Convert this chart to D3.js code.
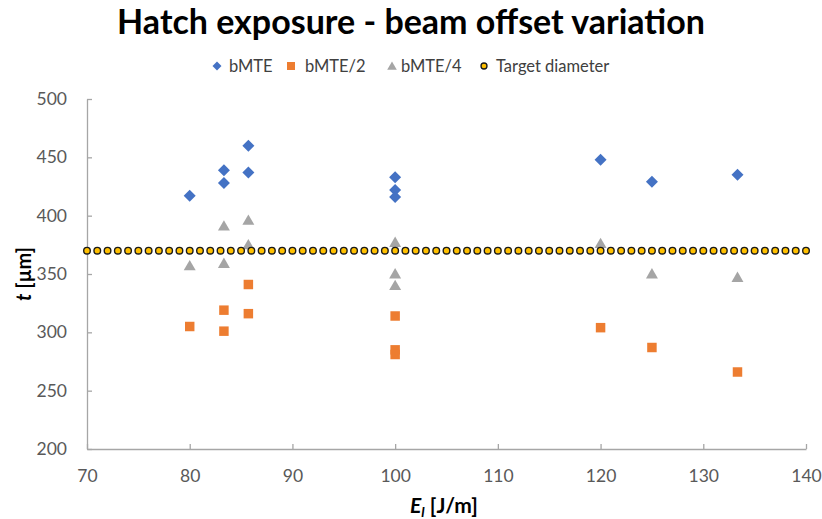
<!DOCTYPE html>
<html>
<head>
<meta charset="utf-8">
<script src="https://cdn.jsdelivr.net/npm/d3@7"></script>
<style>
  html, body { margin: 0; padding: 0; background: #fff; }
  svg { display: block; font-family: Lato, "Open Sans", sans-serif; }
</style>
</head>
<body>
<svg id="chart" width="822" height="519"></svg>
<script>
// Line energy E_l [J/m] for each measurement
const bMTE_x   = [80, 83.33, 83.33, 85.71, 85.71, 100, 100, 100, 120, 125, 133.33];
const bMTE_y   = [417, 439, 428, 460, 437, 433, 422, 416, 448, 429, 435];
const bMTE2_x  = [80, 83.33, 83.33, 85.71, 85.71, 100, 100, 100, 120, 125, 133.33];
const bMTE2_y  = [305, 319, 301, 341, 316, 314, 285, 281, 304, 287, 266];
const bMTE4_x  = [80, 83.33, 83.33, 85.71, 85.71, 100, 100, 100, 120, 125, 133.33];
const bMTE4_y  = [357, 391, 359, 396, 375, 377, 350, 340, 376, 350, 347];
const targetValue = 370;
const targetX = d3.range(70, 141, 1);

const xTicks = [70, 80, 90, 100, 110, 120, 130, 140];
const yTicks = [200, 250, 300, 350, 400, 450, 500];

const seriesNames = ["bMTE", "bMTE/2", "bMTE/4", "Target diameter"];

const svg = d3.select("#chart");
const margin = { left: 87, right: 16, top: 99, bottom: 70 };
const W = 822, H = 519;

const x = d3.scaleLinear().domain([70, 140]).range([margin.left, W - margin.right]);
const y = d3.scaleLinear().domain([200, 500]).range([H - margin.bottom, margin.top]);

const axisColor = "#a6a6a6";
const labelColor = "#595959";

// Title
svg.append("text")
  .attr("x", 411).attr("y", 34)
  .attr("text-anchor", "middle")
  .attr("font-size", 34).attr("font-weight", "bold")
  .attr("fill", "#000")
  .text("Hatch exposure - beam offset variation");

// Axes
const xAxis = d3.axisBottom(x).tickValues(xTicks).tickSizeInner(-5).tickSizeOuter(0).tickPadding(21);
const yAxis = d3.axisLeft(y).tickValues(yTicks).tickSizeInner(-5).tickSizeOuter(0).tickPadding(20);

const gx = svg.append("g").attr("transform", `translate(0,${y(200)})`).call(xAxis);
const gy = svg.append("g").attr("transform", `translate(${x(70)},0)`).call(yAxis);
[gx, gy].forEach(g => {
  g.select(".domain").attr("stroke", axisColor).attr("stroke-width", 1.3);
  g.selectAll(".tick line").attr("stroke", axisColor).attr("stroke-width", 1.3);
  g.selectAll(".tick text").attr("fill", labelColor).attr("font-size", 17.5)
    .attr("font-family", "Lato, 'Open Sans', sans-serif");
});

// Axis titles
const xt = svg.append("text")
  .attr("x", 444).attr("y", 513)
  .attr("text-anchor", "middle")
  .attr("font-size", 21).attr("font-weight", "bold").attr("fill", "#000");
xt.append("tspan").attr("font-style", "italic").text("E");
xt.append("tspan").attr("font-style", "italic").attr("font-size", 14).attr("dy", 4).text("l");
xt.append("tspan").attr("dy", -4).text(" [J/m]");

const yt = svg.append("text")
  .attr("transform", `translate(31,${y(350)}) rotate(-90)`)
  .attr("text-anchor", "middle")
  .attr("font-size", 20).attr("font-weight", "bold").attr("fill", "#000");
yt.append("tspan").attr("font-style", "italic").text("t");
yt.append("tspan").text(" [µm]");

// Marker shapes
const diamondPath = d3.symbol(d3.symbolSquare, 72)();
const squarePath = d3.symbol(d3.symbolSquare, 90)();
const trianglePath = d3.symbol(d3.symbolTriangle, 62)();

const plot = svg.append("g");

function pts(xs, ys) { return xs.map((v, i) => ({ x: v, y: ys[i] })); }

plot.append("g").selectAll("path").data(pts(bMTE_x, bMTE_y)).join("path")
  .attr("d", diamondPath)
  .attr("transform", d => `translate(${x(d.x)},${y(d.y)}) rotate(45)`)
  .attr("fill", "#4472c4");

plot.append("g").selectAll("path").data(pts(bMTE2_x, bMTE2_y)).join("path")
  .attr("d", squarePath)
  .attr("transform", d => `translate(${x(d.x)},${y(d.y)})`)
  .attr("fill", "#ed7d31");

plot.append("g").selectAll("path").data(pts(bMTE4_x, bMTE4_y)).join("path")
  .attr("d", trianglePath)
  .attr("transform", d => `translate(${x(d.x)},${y(d.y) + 1})`)
  .attr("fill", "#a5a5a5");

plot.append("g").selectAll("circle").data(targetX).join("circle")
  .attr("cx", d => x(d)).attr("cy", y(targetValue))
  .attr("r", 3.3)
  .attr("fill", "#ffc000").attr("stroke", "#1a1a1a").attr("stroke-width", 1.4);

// Legend
const legend = svg.append("g").attr("font-size", 16.5).attr("fill", "#404040");
const legendItems = [
  { name: seriesNames[0], mx: 217, tx: 229 },
  { name: seriesNames[1], mx: 291, tx: 305 },
  { name: seriesNames[2], mx: 392, tx: 401 },
  { name: seriesNames[3], mx: 484, tx: 496 }
];
const ly = 66;
legendItems.forEach((it, i) => {
  if (i === 0) legend.append("path").attr("d", d3.symbol(d3.symbolSquare, 40)())
    .attr("transform", `translate(${it.mx},${ly}) rotate(45)`).attr("fill", "#4472c4");
  if (i === 1) legend.append("path").attr("d", d3.symbol(d3.symbolSquare, 64)())
    .attr("transform", `translate(${it.mx},${ly})`).attr("fill", "#ed7d31");
  if (i === 2) legend.append("path").attr("d", d3.symbol(d3.symbolTriangle, 40)())
    .attr("transform", `translate(${it.mx},${ly + 1})`).attr("fill", "#a5a5a5");
  if (i === 3) legend.append("circle").attr("cx", it.mx).attr("cy", ly).attr("r", 3)
    .attr("fill", "#ffc000").attr("stroke", "#1a1a1a").attr("stroke-width", 1.3);
  legend.append("text").attr("x", it.tx).attr("y", ly + 6).attr("fill", "#404040").text(it.name);
});
</script>
</body>
</html>
